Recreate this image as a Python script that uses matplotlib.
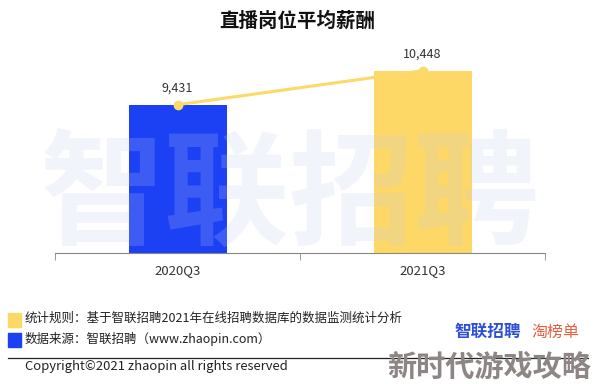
import matplotlib.pyplot as plt
from matplotlib.patches import Rectangle
from matplotlib.lines import Line2D

plt.rcParams['font.family'] = ['Noto Sans CJK SC', 'DejaVu Sans']

categories = ['2020Q3', '2021Q3']
salary = [9431, 10448]
bar_colors = ['#1c41f5', '#fdd866']
title = '直播岗位平均薪酬'
note_rule = '统计规则：基于智联招聘2021年在线招聘数据库的数据监测统计分析'
note_source = '数据来源：智联招聘（www.zhaopin.com）'
copyright_text = 'Copyright©2021 zhaopin all rights reserved'

fig = plt.figure(figsize=(5.94, 3.84), dpi=100)
ax = fig.add_axes([0.0926, 0.341, 0.825, 0.523])

x = list(range(len(categories)))
ax.bar(x, salary, width=0.4, color=bar_colors, zorder=2)
ax.plot(x, salary, color='#fbd96a', lw=2.2, marker='o', ms=6, zorder=3)
for xi, v in zip(x, salary):
    ax.annotate(f'{v:,}', (xi, v), xytext=(0, 7), textcoords='offset points',
                ha='center', va='bottom', fontsize=9, color='#333333')

ax.set_xlim(-0.5, 1.5)
ax.set_ylim(5000, 11000)
ax.set_yticks([])
ax.set_xticks(x)
ax.set_xticklabels(categories, fontsize=9.5, color='#333333')
ax.set_xticks([-0.5, 0.5, 1.5], minor=True)
ax.tick_params(axis='x', which='major', length=0, pad=8)
ax.tick_params(axis='x', which='minor', length=5, color='#888888', direction='out')
for s in ['left', 'right', 'top']:
    ax.spines[s].set_visible(False)
ax.spines['bottom'].set_color('#888888')

# big faint watermark
fig.text(0.487, 0.485, '智联招聘', ha='center', va='center', fontsize=90,
         fontweight='bold', color='#c2c9f0', alpha=0.2, zorder=5)

fig.text(0.5, 0.945, title, ha='center', va='center', fontsize=14,
         fontweight='bold', color='#111111')

# footer
fig.add_artist(Rectangle((0.014, 0.148), 0.021, 0.036, color=bar_colors[1],
                         transform=fig.transFigure))
fig.add_artist(Rectangle((0.014, 0.096), 0.021, 0.036, color=bar_colors[0],
                         transform=fig.transFigure))
fig.text(0.042, 0.172, note_rule, fontsize=9, va='center', color='#222222')
fig.text(0.042, 0.118, note_source, fontsize=9, va='center', color='#222222')
fig.add_artist(Line2D([0.014, 0.99], [0.068, 0.068], color='#222222', lw=0.9,
                      transform=fig.transFigure))
fig.text(0.042, 0.045, copyright_text, fontsize=9.4, va='center', color='#222222')

fig.text(0.765, 0.135, '智联招聘', fontsize=12, fontweight='bold', va='center',
         color='#2d4fd8')
fig.text(0.895, 0.135, '淘榜单', fontsize=11.5, va='center', color='#e8603f')
fig.text(0.995, 0.045, '新时代游戏攻略', fontsize=21, fontweight='bold', ha='right',
         va='center', color='#8e8585')

fig.savefig('out.png', dpi=100)
